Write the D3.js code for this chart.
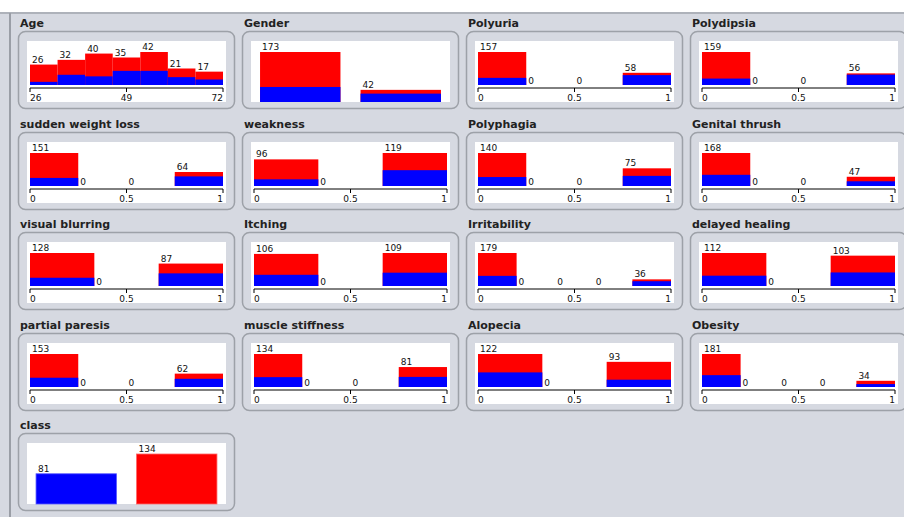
<!DOCTYPE html>
<html><head><meta charset="utf-8">
<script src="https://cdn.jsdelivr.net/npm/d3@7"></script>
<style>body{margin:0;background:#d6d9e1;}svg{display:block;font-family:"DejaVu Sans",sans-serif;}</style>
</head><body><svg id="c" width="904" height="517"></svg>
<script>
const names=["Age","Gender","Polyuria","Polydipsia","sudden weight loss","weakness","Polyphagia","Genital thrush","visual blurring","Itching","Irritability","delayed healing","partial paresis","muscle stiffness","Alopecia","Obesity","class"];
const totals=[[26,32,40,35,42,21,17],[173,42],[157,0,0,58],[159,0,0,56],[151,0,0,64],[96,0,119],[140,0,0,75],[168,0,0,47],[128,0,87],[106,0,109],[179,0,0,0,36],[112,0,103],[153,0,0,62],[134,0,0,81],[122,0,93],[181,0,0,0,34],[81,134]];
const blues=[[4,13,11,18,18,10,7],[52,29],[34,0,0,47],[31,0,0,50],[37,0,0,44],[24,0,57],[38,0,0,43],[57,0,0,24],[32,0,49],[37,0,44],[55,0,0,0,26],[35,0,46],[43,0,0,38],[40,0,0,41],[54,0,27],[65,0,0,0,16],[81,0]];
const axisTicks=[["26","49","72"],null,["0","0.5","1"],["0","0.5","1"],["0","0.5","1"],["0","0.5","1"],["0","0.5","1"],["0","0.5","1"],["0","0.5","1"],["0","0.5","1"],["0","0.5","1"],["0","0.5","1"],["0","0.5","1"],["0","0.5","1"],["0","0.5","1"],["0","0.5","1"],null];
const svg=d3.select("#c");
svg.append("rect").attr("width",904).attr("height",12).attr("fill","#fff");
svg.append("line").attr("x1",0).attr("x2",904).attr("y1",13).attr("y2",13).attr("stroke","#aeb2ba").attr("stroke-width",2);
svg.append("line").attr("x1",10).attr("x2",10).attr("y1",13).attr("y2",517).attr("stroke","#9a9ea6").attr("stroke-width",2);
names.forEach((nm,i)=>{
  const c=i%4,r=Math.floor(i/4);
  const g=svg.append("g").attr("transform",`translate(${18+224*c},${Math.round(31+100.5*r)})`);
  g.append("text").attr("x",2).attr("y",-4).attr("font-size",11).attr("font-weight","bold").attr("fill","#222").text(nm);
  g.append("rect").attr("x",0.5).attr("y",0.5).attr("width",216).attr("height",77).attr("rx",7).attr("fill","#d6d9e1").attr("stroke","#9da1a8").attr("stroke-width",1.5);
  const w=g.append("g").attr("transform","translate(9,10)");
  w.append("rect").attr("width",199).attr("height",61).attr("fill","#fff");
  const tot=totals[i],bl=blues[i],ax=axisTicks[i];
  const isClass=nm==="class";
  let x,y,bot;
  if(ax){
    x=d3.scaleBand().domain(d3.range(tot.length)).range([3,196]).padding(0);
    bot=44; y=d3.scaleLinear().domain([0,d3.max(tot)]).range([bot,11]);
  }else{
    x=d3.scaleBand().domain(d3.range(tot.length)).range([0,199]).paddingInner(0.2).paddingOuter(0.09);
    bot=61; y=d3.scaleLinear().domain([0,d3.max(tot)]).range([bot,11]);
  }
  tot.forEach((t,k)=>{
    const x0=x(k),bw=x.bandwidth();
    if(t>0){
      if(isClass){
        w.append("rect").attr("x",x0).attr("y",y(t)).attr("width",bw).attr("height",bot-y(t)).attr("fill",k===0?"#0000ff":"#ff0000").attr("stroke",k===0?"#5555ff":"#ff6666").attr("stroke-width",0.8);
      }else{
        w.append("rect").attr("x",x0).attr("y",y(t)).attr("width",bw).attr("height",bot-y(t)).attr("fill","#ff0000");
        w.append("rect").attr("x",x0).attr("y",y(bl[k])).attr("width",bw).attr("height",bot-y(bl[k])).attr("fill","#0000ff");
      }
    }
    w.append("text").attr("x",x0+2).attr("y",t>0?y(t)-2:bot-1).attr("font-size",9).attr("fill","#111").text(t);
  });
  if(ax){
    const xs=d3.scaleLinear().domain([0,2]).range([3,196]);
    const a=w.append("g").attr("transform","translate(0,47)");
    a.append("line").attr("x1",3).attr("x2",196).attr("stroke","#000");
    [0,1,2].forEach(k=>{
      a.append("line").attr("x1",xs(k)).attr("x2",xs(k)).attr("y1",0).attr("y2",4).attr("stroke","#000");
      a.append("text").attr("x",xs(k)).attr("y",13).attr("font-size",9).attr("fill","#111")
        .attr("text-anchor",k===0?"start":k===1?"middle":"end").text(ax[k]);
    });
  }
});
</script></body></html>
